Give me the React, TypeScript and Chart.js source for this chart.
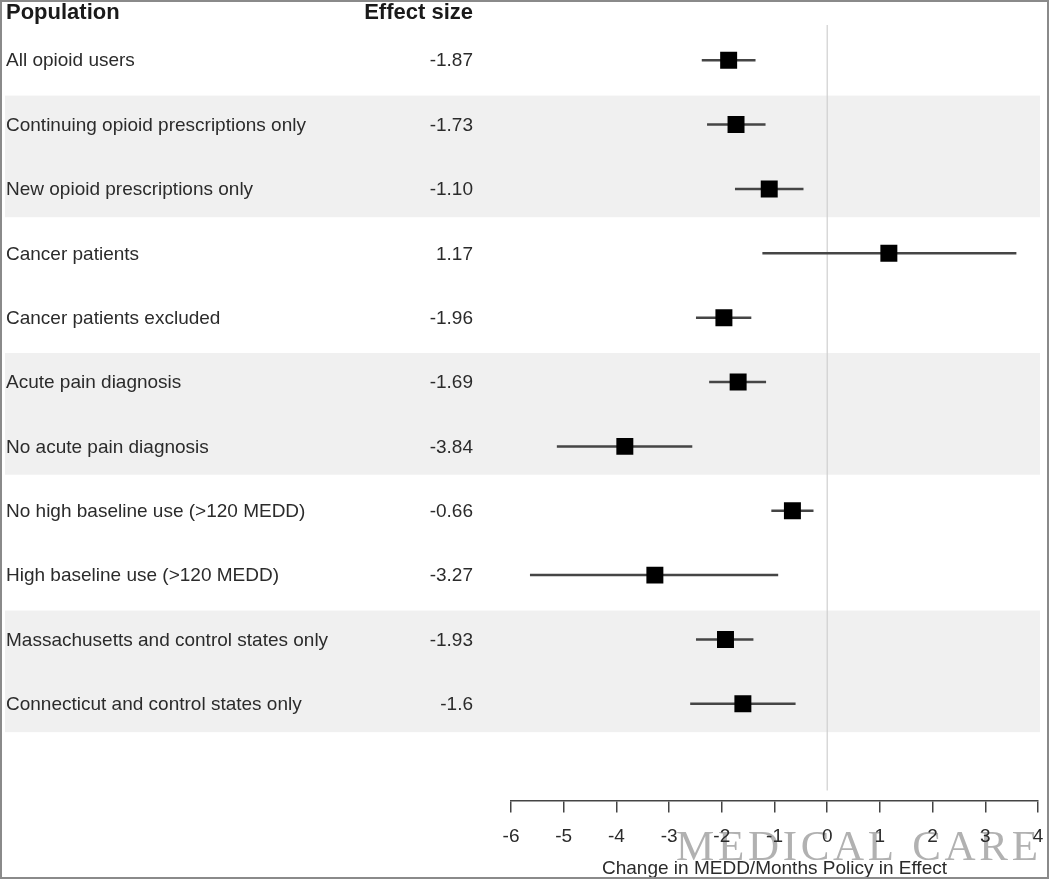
import React, { useEffect, useRef } from "react";
import { Chart, registerables } from "chart.js";

Chart.register(...registerables);

const populations = [
  "All opioid users",
  "Continuing opioid prescriptions only",
  "New opioid prescriptions only",
  "Cancer patients",
  "Cancer patients excluded",
  "Acute pain diagnosis",
  "No acute pain diagnosis",
  "No high baseline use (>120 MEDD)",
  "High baseline use (>120 MEDD)",
  "Massachusetts and control states only",
  "Connecticut and control states only",
];
const effectLabels = ["-1.87", "-1.73", "-1.10", "1.17", "-1.96", "-1.69", "-3.84", "-0.66", "-3.27", "-1.93", "-1.6"];
const effects = [-1.87, -1.73, -1.1, 1.17, -1.96, -1.69, -3.84, -0.66, -3.27, -1.93, -1.6];
const ciLow = [-2.38, -2.28, -1.75, -1.23, -2.49, -2.24, -5.13, -1.06, -5.64, -2.49, -2.6];
const ciHigh = [-1.36, -1.17, -0.45, 3.59, -1.44, -1.16, -2.56, -0.26, -0.93, -1.4, -0.6];
const shadedGroups = [
  [1, 2],
  [5, 6],
  [9, 10],
];
const xMin = -6;
const xMax = 4;
const headerPopulation = "Population";
const headerEffect = "Effect size";
const axisTitle = "Change in MEDD/Months Policy in Effect";
const watermark = "MEDICAL CARE";

const FONT = '"Liberation Sans", Arial, sans-serif';
const TEXT = "#2b2b2b";

export default function App() {
  const ref = useRef<HTMLCanvasElement | null>(null);

  useEffect(() => {
    const canvas = ref.current;
    if (!canvas) return;

    const decor = {
      id: "forestDecor",
      beforeDraw(chart: any) {
        const { ctx, scales } = chart;
        const y = scales.y;
        ctx.save();
        ctx.fillStyle = "#ffffff";
        ctx.fillRect(0, 0, chart.width, chart.height);
        // shaded bands
        ctx.fillStyle = "#f0f0f0";
        shadedGroups.forEach(([a, b]) => {
          const top = y.getPixelForValue(a - 0.45);
          const bot = y.getPixelForValue(b + 0.44);
          ctx.fillRect(5, top, 1035, bot - top);
        });
        // watermark
        ctx.font = '43px "Liberation Serif", "Times New Roman", serif';
        (ctx as any).letterSpacing = "3.7px";
        ctx.fillStyle = "rgba(125,125,125,0.6)";
        ctx.textAlign = "left";
        ctx.textBaseline = "alphabetic";
        ctx.fillText(watermark, 676, 860);
        (ctx as any).letterSpacing = "0px";
        ctx.restore();
      },
      beforeDatasetsDraw(chart: any) {
        const { ctx, scales, chartArea } = chart;
        const x0 = scales.x.getPixelForValue(0);
        ctx.save();
        ctx.strokeStyle = "#cfcfcf";
        ctx.lineWidth = 1.2;
        ctx.beginPath();
        ctx.moveTo(x0, 25);
        ctx.lineTo(x0, chartArea.bottom - 10);
        ctx.stroke();
        ctx.restore();
      },
      afterDraw(chart: any) {
        const { ctx, scales } = chart;
        const y = scales.y;
        ctx.save();
        ctx.fillStyle = "#1a1a1a";
        ctx.textBaseline = "middle";
        ctx.font = `bold 22px ${FONT}`;
        ctx.textAlign = "left";
        ctx.fillText(headerPopulation, 6, 13);
        ctx.textAlign = "right";
        ctx.fillText(headerEffect, 473, 13);
        ctx.fillStyle = TEXT;
        ctx.font = `19px ${FONT}`;
        populations.forEach((p, i) => {
          const py = y.getPixelForValue(i) + 1;
          ctx.textAlign = "left";
          ctx.fillText(p, 6, py);
          ctx.textAlign = "right";
          ctx.fillText(effectLabels[i], 473, py);
        });
        // frame
        ctx.strokeStyle = "#8a8a8a";
        ctx.lineWidth = 2;
        ctx.strokeRect(1, 1, 1047, 877);
        ctx.restore();
      },
    };

    const ciSets = populations.map((_, i) => ({
      type: "line" as const,
      data: [
        { x: ciLow[i], y: i },
        { x: ciHigh[i], y: i },
      ],
      borderColor: "#454545",
      borderWidth: 2.5,
      pointRadius: 0,
      showLine: true,
      fill: false,
      order: 2,
    }));

    const chart = new Chart(canvas, {
      type: "scatter",
      data: {
        datasets: [
          {
            type: "scatter",
            data: effects.map((v, i) => ({ x: v, y: i })),
            pointStyle: "rect",
            pointRadius: 12,
            backgroundColor: "#000000",
            borderWidth: 0,
            order: 0,
          } as any,
          ...ciSets,
        ],
      },
      options: {
        animation: false,
        responsive: false,
        devicePixelRatio: 1,
        layout: { padding: { left: 511, right: 11, top: 28, bottom: 1 } },
        plugins: { legend: { display: false }, tooltip: { enabled: false } },
        scales: {
          x: {
            type: "linear",
            min: xMin,
            max: xMax,
            afterFit(scale: any) {
              scale.paddingLeft = 0;
              scale.paddingRight = 0;
            },
            ticks: {
              stepSize: 1,
              color: TEXT,
              font: { family: FONT, size: 19 },
              padding: 13,
            },
            grid: {
              drawOnChartArea: false,
              drawTicks: true,
              tickLength: 12,
              color: "#444444",
              lineWidth: 1.5,
            },
            border: { display: true, color: "#444444", width: 1.5 },
            title: {
              display: true,
              text: axisTitle,
              color: TEXT,
              font: { family: FONT, size: 19 },
              padding: { top: -4, bottom: 0 },
            },
          },
          y: {
            type: "linear",
            reverse: true,
            min: -0.5,
            max: 11.5,
            display: false,
          },
        },
      },
      plugins: [decor],
    });

    return () => chart.destroy();
  }, []);

  return (
    <div style={{ position: "absolute", left: 0, top: 0, width: 1050, height: 881 }}>
      <canvas ref={ref} width={1050} height={881} style={{ width: 1050, height: 881, display: "block" }} />
    </div>
  );
}
